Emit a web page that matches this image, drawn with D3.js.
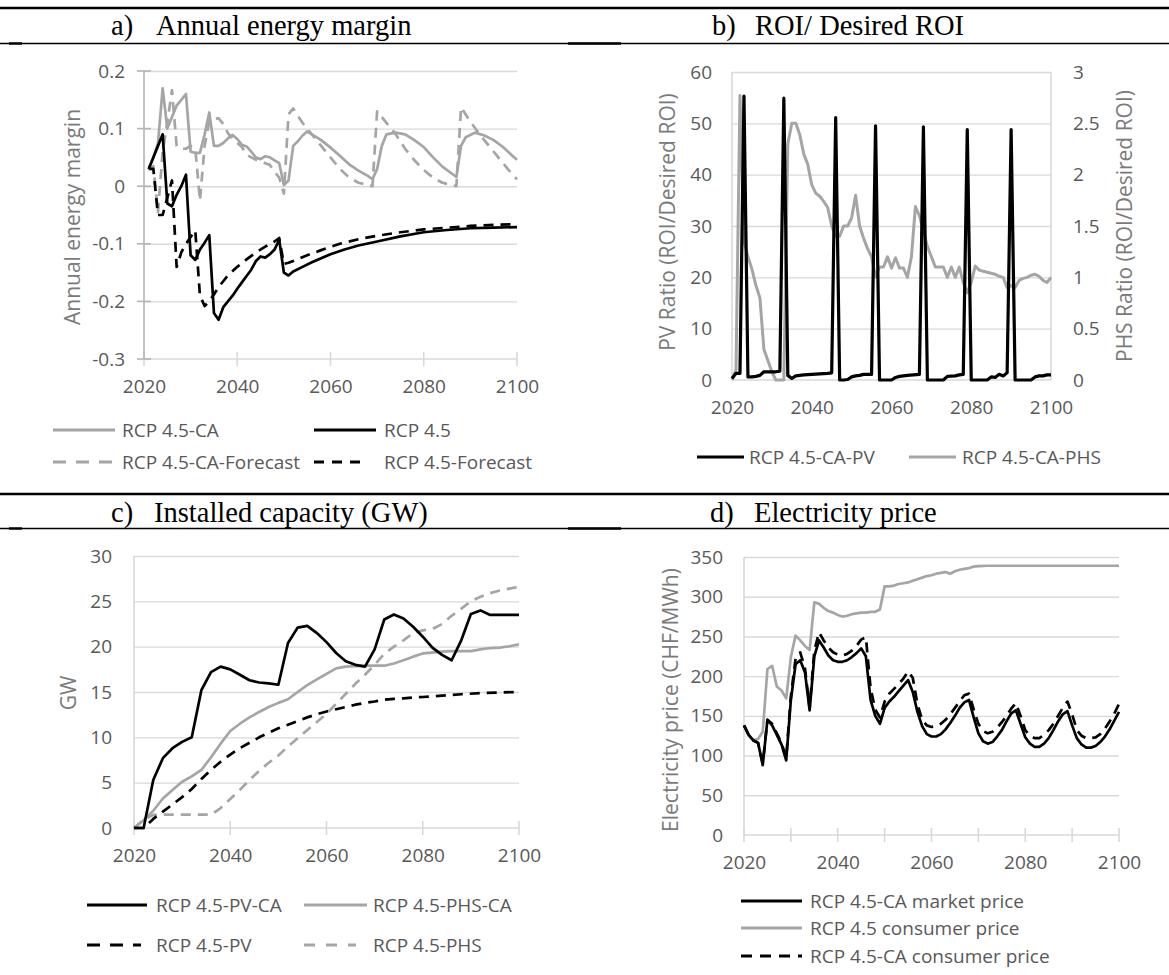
<!DOCTYPE html>
<html>
<head>
<meta charset="utf-8">
<script src="https://cdn.jsdelivr.net/npm/d3@7"></script>
<style>
  body { margin: 0; background: #fff; }
  svg { display: block; }
  .tick text { font-family: "Open Sans", sans-serif; font-size: 19px; fill: #595959; }
  .ttl { font-family: "Liberation Serif", "Times New Roman", serif; font-size: 28.5px; fill: #000; }
  .axt { font-family: "Open Sans", sans-serif; font-size: 21px; fill: #7a7a7a; }
  .leg { font-family: "Open Sans", sans-serif; font-size: 19px; fill: #595959; }
</style>
</head>
<body>
<svg id="chart" width="1169" height="975"></svg>
<script>
// ---- a) annual energy margin ----
const marginCA = [[2021,0.03],[2022,0.05],[2023,0.075],[2024,0.17],[2025,0.1],[2026,0.12],[2027,0.14],[2028,0.15],[2029,0.16],
  [2030,0.06],[2031,0.058],[2032,0.058],[2033,0.09],[2034,0.128],[2035,0.07],[2036,0.07],[2037,0.075],[2038,0.083],[2039,0.089],
  [2040,0.082],[2041,0.072],[2042,0.069],[2043,0.06],[2044,0.05],[2045,0.047],[2046,0.052],[2047,0.05],[2048,0.045],[2049,0.04],
  [2050,0.002],[2051,0.01],[2052,0.07],[2053,0.078],[2054,0.088],[2055,0.095],[2056,0.09],[2058,0.08],[2060,0.067],[2062,0.053],
  [2064,0.038],[2066,0.027],[2068,0.018],[2069,0.012],[2070,0.03],[2071,0.07],[2072,0.09],[2074,0.093],[2076,0.09],[2078,0.08],
  [2080,0.068],[2082,0.05],[2084,0.034],[2086,0.022],[2087,0.016],[2088,0.07],[2089,0.085],[2091,0.093],[2093,0.088],[2095,0.08],
  [2097,0.068],[2099,0.053],[2100,0.046]];
const marginRCP = [[2021,0.03],[2022,0.05],[2023,0.07],[2024,0.09],[2025,-0.03],[2026,-0.035],[2027,-0.015],[2028,0.0],[2029,0.02],
  [2030,-0.12],[2031,-0.128],[2032,-0.11],[2033,-0.098],[2034,-0.085],[2035,-0.22],[2036,-0.232],[2037,-0.21],[2038,-0.2],[2039,-0.19],
  [2040,-0.178],[2041,-0.167],[2042,-0.156],[2043,-0.145],[2044,-0.13],[2045,-0.122],[2046,-0.124],[2047,-0.118],[2048,-0.11],
  [2049,-0.093],[2050,-0.15],[2051,-0.155],[2052,-0.148],[2054,-0.14],[2056,-0.132],[2058,-0.125],[2060,-0.118],[2063,-0.11],
  [2066,-0.103],[2070,-0.096],[2075,-0.087],[2080,-0.08],[2085,-0.076],[2090,-0.073],[2095,-0.072],[2100,-0.071]];
const marginCAForecast = [[2021,0.03],[2022,0.035],[2023,-0.045],[2024,0.06],[2025,0.11],[2026,0.167],[2027,0.07],[2028,0.065],
  [2029,0.065],[2030,0.07],[2031,0.065],[2032,-0.025],[2033,0.07],[2034,0.112],[2035,0.117],[2036,0.118],[2037,0.108],[2038,0.092],
  [2039,0.082],[2040,0.075],[2041,0.068],[2042,0.055],[2043,0.05],[2044,0.046],[2045,0.043],[2046,0.04],[2047,0.037],[2048,0.025],
  [2049,0.015],[2050,-0.013],[2051,0.125],[2052,0.135],[2053,0.122],[2054,0.11],[2056,0.09],[2058,0.07],[2060,0.05],[2062,0.03],
  [2064,0.015],[2066,0.006],[2068,0.002],[2069,0.0],[2070,0.13],[2072,0.11],[2074,0.09],[2076,0.065],[2078,0.045],[2080,0.028],
  [2082,0.015],[2084,0.006],[2086,0.002],[2087,0.0],[2088,0.137],[2090,0.112],[2092,0.09],[2094,0.07],[2096,0.05],[2098,0.03],[2100,0.012]];
const marginForecast = [[2021,0.03],[2022,0.03],[2023,-0.05],[2024,-0.05],[2025,-0.02],[2026,0.01],[2027,-0.14],[2028,-0.115],
  [2029,-0.1],[2030,-0.088],[2031,-0.077],[2032,-0.19],[2033,-0.208],[2034,-0.2],[2035,-0.188],[2036,-0.175],[2037,-0.165],
  [2038,-0.155],[2040,-0.14],[2042,-0.127],[2044,-0.115],[2046,-0.105],[2048,-0.096],[2049,-0.09],[2050,-0.135],[2051,-0.133],
  [2052,-0.13],[2055,-0.12],[2058,-0.111],[2062,-0.1],[2066,-0.092],[2070,-0.086],[2075,-0.08],[2080,-0.075],[2085,-0.072],
  [2090,-0.069],[2095,-0.067],[2100,-0.066]];
const marginTicks = [-0.3, -0.2, -0.1, 0, 0.1, 0.2];

// ---- b) ROI / desired ROI ----
const roiPV = [[2020,0.3],[2021,1.3],[2022,1.3],[2023,55.3],[2024,0.6],[2025,0.6],[2026,0.7],[2027,0.9],[2028,1.6],[2029,1.6],
  [2030,1.6],[2031,1.6],[2032,1.7],[2033,54.9],[2034,0.9],[2035,0.3],[2036,0.8],[2037,0.9],[2038,1.0],[2040,1.1],[2042,1.2],
  [2044,1.3],[2045,1.4],[2046,51.1],[2047,0],[2048,0],[2049,0.1],[2050,0.6],[2051,0.8],[2052,0.9],[2053,1.1],[2055,1.1],
  [2056,49.5],[2057,0],[2060,0],[2061,0.5],[2062,0.7],[2064,0.9],[2067,1.1],[2068,49.3],[2069,0],[2073,0],[2074,0.7],[2076,0.8],
  [2077,1.0],[2078,1.1],[2079,48.8],[2080,0],[2084,0],[2085,0.6],[2086,0.5],[2087,1.1],[2088,0.8],[2089,1.4],[2090,48.8],
  [2091,0],[2095,0],[2096,0.6],[2097,0.8],[2098,0.8],[2099,1.0],[2100,1.0]];
const roiPHS = [[2020,0],[2021,0.1],[2022,2.77],[2023,1.35],[2024,1.2],[2025,1.08],[2026,0.92],[2027,0.8],[2028,0.3],[2029,0.19],
  [2030,0.08],[2031,0],[2033,0],[2034,2.3],[2035,2.5],[2036,2.5],[2037,2.39],[2038,2.2],[2039,2.1],[2040,1.9],[2041,1.82],
  [2042,1.79],[2043,1.74],[2044,1.68],[2045,1.5],[2046,1.4],[2047,1.4],[2048,1.5],[2049,1.5],[2050,1.58],[2051,1.8],[2052,1.5],
  [2053,1.38],[2054,1.28],[2055,1.2],[2056,1.0],[2057,1.1],[2058,1.1],[2059,1.2],[2060,1.09],[2061,1.19],[2062,1.09],[2063,1.09],
  [2064,1.0],[2065,1.2],[2066,1.69],[2067,1.6],[2068,1.45],[2069,1.3],[2070,1.2],[2071,1.1],[2073,1.1],[2074,1.0],[2075,1.1],
  [2076,1.0],[2077,1.1],[2078,0.95],[2079,0.85],[2080,0.95],[2081,1.11],[2082,1.07],[2083,1.06],[2084,1.05],[2085,1.04],
  [2086,1.03],[2087,1.01],[2088,1.0],[2089,0.9],[2090,0.92],[2091,0.9],[2092,0.97],[2093,0.99],[2094,1.0],[2095,1.02],
  [2096,1.03],[2097,1.01],[2098,0.97],[2099,0.95],[2100,1.0]];
const pvTicks = [0, 10, 20, 30, 40, 50, 60];
const phsTicks = [0, 0.5, 1, 1.5, 2, 2.5, 3];

// ---- c) installed capacity (GW) ----
const capPVCA = [[2020,0],[2022,0],[2024,5.3],[2026,7.7],[2028,8.8],[2030,9.5],[2032,10],[2034,15.2],[2036,17.2],[2038,17.8],
  [2040,17.5],[2042,16.9],[2044,16.3],[2046,16.05],[2048,15.95],[2050,15.8],[2052,20.4],[2054,22.1],[2056,22.3],[2058,21.5],
  [2060,20.5],[2062,19.3],[2064,18.4],[2066,18.0],[2068,17.8],[2070,19.7],[2072,23.0],[2074,23.55],[2076,23.1],[2078,22.2],
  [2080,21.1],[2082,19.9],[2084,19.1],[2086,18.5],[2088,20.7],[2090,23.6],[2092,24.0],[2094,23.5],[2096,23.5],[2098,23.5],[2100,23.5]];
const capPHSCA = [[2020,0],[2022,0.85],[2024,1.9],[2026,3.25],[2028,4.2],[2030,5.1],[2032,5.7],[2034,6.4],[2036,7.8],[2038,9.3],
  [2040,10.7],[2042,11.5],[2044,12.2],[2046,12.8],[2048,13.35],[2050,13.8],[2052,14.2],[2054,15.0],[2056,15.75],[2058,16.4],
  [2060,17.0],[2062,17.6],[2064,17.8],[2066,17.85],[2068,17.9],[2070,17.9],[2072,17.9],[2074,18.15],[2076,18.5],[2078,18.9],
  [2080,19.25],[2082,19.35],[2084,19.45],[2086,19.5],[2088,19.5],[2090,19.5],[2092,19.7],[2094,19.85],[2096,19.9],[2098,20.05],[2100,20.25]];
const capPV = [[2020,0],[2022,0],[2024,1.0],[2026,1.8],[2028,2.6],[2030,3.4],[2032,4.3],[2034,5.4],[2036,6.4],[2038,7.3],
  [2040,8.1],[2042,8.8],[2044,9.4],[2046,10.0],[2048,10.5],[2050,11.0],[2052,11.4],[2054,11.8],[2056,12.2],[2058,12.55],
  [2060,12.85],[2062,13.1],[2064,13.35],[2066,13.6],[2068,13.8],[2070,13.95],[2072,14.15],[2074,14.25],[2076,14.3],[2078,14.4],
  [2080,14.45],[2084,14.6],[2088,14.75],[2092,14.88],[2096,14.95],[2100,15.0]];
const capPHS = [[2020,0],[2022,0.9],[2024,1.45],[2026,1.47],[2030,1.47],[2034,1.47],[2036,1.47],[2038,2.2],[2040,3.2],[2042,4.2],
  [2044,5.3],[2046,6.3],[2048,7.2],[2050,8.0],[2052,9.0],[2054,9.9],[2056,10.8],[2058,11.7],[2060,12.6],[2062,13.7],[2064,14.8],
  [2066,15.9],[2068,16.9],[2070,18.0],[2072,19.2],[2074,20.0],[2076,20.7],[2078,21.5],[2080,21.8],[2082,21.95],[2084,22.5],
  [2086,23.4],[2088,24.2],[2090,25.0],[2092,25.5],[2094,25.9],[2096,26.2],[2098,26.4],[2100,26.6]];
const capTicks = [0, 5, 10, 15, 20, 25, 30];

// ---- d) electricity price ----
const priceConsumer = [[2020,138],[2021,125],[2022,119],[2023,121],[2024,130],[2025,209],[2026,213],[2027,187],[2028,182],[2029,172],
  [2030,224],[2031,251],[2032,245],[2033,238],[2034,233],[2035,293],[2036,291],[2037,286],[2038,282],[2039,280],[2040,277],
  [2041,275],[2042,276],[2043,278],[2044,279],[2045,280],[2046,280],[2047,281],[2048,281],[2049,284],[2050,313],[2051,313],
  [2052,314],[2053,316],[2054,317],[2055,318],[2056,320],[2057,322],[2058,324],[2059,326],[2060,327],[2061,329],[2062,330],
  [2063,331],[2064,329],[2065,332],[2066,334],[2067,335],[2068,336],[2069,338],[2070,338.5],[2072,339],[2080,339],[2090,339],[2100,339]];
const priceMarketCA = [[2020,138],[2021,126],[2022,119],[2023,116],[2024,88],[2025,145],[2026,138],[2027,126],[2028,114],[2029,94],
  [2030,170],[2031,215],[2032,220],[2033,205],[2034,157],[2035,225],[2036,245],[2037,236],[2038,226],[2039,220],[2040,218],
  [2041,218],[2042,220],[2043,224],[2044,229],[2045,235],[2046,225],[2047,170],[2048,150],[2049,140],[2050,160],[2051,168],
  [2052,174],[2053,181],[2054,188],[2055,195],[2056,180],[2057,155],[2058,137],[2059,127],[2060,124],[2061,124],[2062,127],
  [2063,133],[2064,141],[2065,150],[2066,160],[2067,167],[2068,170],[2069,148],[2070,128],[2071,118],[2072,115],[2073,117],
  [2074,124],[2075,132],[2076,143],[2077,153],[2078,157],[2079,140],[2080,123],[2081,115],[2082,111],[2083,111],[2084,115],
  [2085,122],[2086,132],[2087,143],[2088,152],[2089,156],[2090,138],[2091,122],[2092,114],[2093,110],[2094,110],[2095,112],
  [2096,117],[2097,124],[2098,133],[2099,144],[2100,155]];
const priceConsumerCA = [[2020,138],[2021,126],[2022,119],[2023,116],[2024,90],[2025,145],[2026,140],[2027,128],[2028,116],[2029,97],
  [2030,175],[2031,222],[2032,230],[2033,210],[2034,160],[2035,232],[2036,255],[2037,245],[2038,236],[2039,230],[2040,227],
  [2041,226],[2042,228],[2043,232],[2044,238],[2045,246],[2046,249],[2047,185],[2048,158],[2049,148],[2050,168],[2051,178],
  [2052,184],[2053,190],[2054,197],[2055,206],[2056,198],[2057,165],[2058,145],[2059,138],[2060,136],[2061,137],[2062,140],
  [2063,145],[2064,152],[2065,160],[2066,168],[2067,176],[2068,178],[2069,158],[2070,140],[2071,131],[2072,128],[2073,130],
  [2074,135],[2075,142],[2076,150],[2077,159],[2078,166],[2079,150],[2080,132],[2081,125],[2082,122],[2083,122],[2084,126],
  [2085,132],[2086,140],[2087,150],[2088,160],[2089,168],[2090,152],[2091,132],[2092,125],[2093,122],[2094,122],[2095,123],
  [2096,127],[2097,134],[2098,143],[2099,153],[2100,165]];
const priceTicks = [0, 50, 100, 150, 200, 250, 300, 350];

const yearLabels = [2020, 2040, 2060, 2080, 2100];
const yearTicks20 = [2020, 2040, 2060, 2080, 2100];
const yearTicks10 = [2020, 2030, 2040, 2050, 2060, 2070, 2080, 2090, 2100];

const BLACK = '#000000', GRAY = '#a5a5a5', GRID = '#d9d9d9';
const svg = d3.select('#chart');

// section rules (table borders in the source document)
function rule(y, x1, x2, w) {
  svg.append('line').attr('x1', x1).attr('x2', x2).attr('y1', y).attr('y2', y)
    .attr('stroke', '#000').attr('stroke-width', w);
}
rule(8, 0, 1169, 2.6); rule(43.5, 0, 1169, 1.6);
rule(43.5, 9, 22, 2.4); rule(43.5, 568, 621, 2.4);
rule(494, 0, 1169, 2.6); rule(528.5, 0, 1169, 1.6);
rule(528.5, 9, 22, 2.4); rule(528.5, 568, 621, 2.4);

function title(x1, x2, y, tag, text) {
  svg.append('text').attr('class', 'ttl').attr('x', x1).attr('y', y).text(tag);
  svg.append('text').attr('class', 'ttl').attr('x', x2).attr('y', y).text(text);
}
title(111, 156, 35, 'a)', 'Annual energy margin');
title(712, 755, 35, 'b)', 'ROI/ Desired ROI');
title(111, 154, 522, 'c)', 'Installed capacity (GW)');
title(710, 754, 522, 'd)', 'Electricity price');

const fmtMargin = v => (v === 0 ? '0' : v.toFixed(1));

function panel(p) {
  const g = svg.append('g');
  const x = d3.scaleLinear().domain([2020, 2100]).range([p.left, p.right]);
  const y = d3.scaleLinear().domain([p.yTicks[0], p.yTicks[p.yTicks.length - 1]]).range([p.bottom, p.top]);

  // horizontal gridlines
  g.append('g').attr('transform', `translate(${p.left},0)`)
    .call(d3.axisLeft(y).tickValues(p.yTicks.slice(1)).tickSize(-(p.right - p.left)).tickFormat(''))
    .call(s => s.select('.domain').remove())
    .call(s => s.selectAll('line').attr('stroke', GRID).attr('stroke-width', 1.4));

  // x axis line + ticks
  g.append('line').attr('x1', p.left).attr('x2', p.right).attr('y1', p.bottom).attr('y2', p.bottom)
    .attr('stroke', GRID).attr('stroke-width', 1.6);
  if (p.xTickMarks) {
    g.selectAll(null).data(p.xTickMarks).join('line')
      .attr('x1', d => x(d)).attr('x2', d => x(d)).attr('y1', p.bottom - 7).attr('y2', p.bottom + 7)
      .attr('stroke', GRID).attr('stroke-width', 1.6);
  }
  // y axis line
  g.append('line').attr('x1', p.left).attr('x2', p.left).attr('y1', p.top).attr('y2', p.bottom)
    .attr('stroke', p.yAxisColor || GRID).attr('stroke-width', 1.6);
  if (p.yTickMarks) {
    g.selectAll(null).data(p.yTicks).join('line')
      .attr('x1', p.left - 7).attr('x2', p.left + 7).attr('y1', d => y(d)).attr('y2', d => y(d))
      .attr('stroke', p.yAxisColor || GRID).attr('stroke-width', 1.6);
  }

  // tick labels
  g.append('g').attr('transform', `translate(${p.left},0)`)
    .call(d3.axisLeft(y).tickValues(p.yTicks).tickSize(0).tickPadding(p.yPad).tickFormat(p.yFmt || (d => d)))
    .call(s => s.select('.domain').remove());
  g.append('g').attr('transform', `translate(0,${p.bottom})`)
    .call(d3.axisBottom(x).tickValues(yearLabels).tickSize(0).tickPadding(21).tickFormat(d => d))
    .call(s => s.select('.domain').remove());

  // axis title
  g.append('text').attr('class', 'axt')
    .attr('transform', `translate(${p.titleX},${p.titleY}) rotate(-90)`)
    .attr('text-anchor', 'middle').attr('dominant-baseline', 'central').text(p.yTitle);

  return { g, x, y };
}

function drawSeries(g, x, y, data, color, dash, width) {
  g.append('path').datum(data)
    .attr('fill', 'none').attr('stroke', color).attr('stroke-width', width || 2.7)
    .attr('stroke-linejoin', 'round').attr('stroke-dasharray', dash || null)
    .attr('d', d3.line().x(d => x(d[0])).y(d => y(d[1])));
}

function legend(items) {
  items.forEach(it => {
    svg.append('line').attr('x1', it.x1).attr('x2', it.x2).attr('y1', it.y).attr('y2', it.y)
      .attr('stroke', it.color).attr('stroke-width', 3).attr('stroke-dasharray', it.dash || null);
    svg.append('text').attr('class', 'leg').attr('x', it.tx).attr('y', it.y)
      .attr('dominant-baseline', 'central').text(it.label);
  });
}

// ---- panel a ----
const A = panel({ left: 144, right: 517, top: 71, bottom: 359, yTicks: marginTicks, yFmt: fmtMargin, yPad: 19,
  yAxisColor: '#b5b5b5', yTickMarks: true, xTickMarks: yearTicks20,
  yTitle: 'Annual energy margin', titleX: 71.5, titleY: 217 });
drawSeries(A.g, A.x, A.y, marginCA, GRAY);
drawSeries(A.g, A.x, A.y, marginCAForecast, GRAY, '10,7');
drawSeries(A.g, A.x, A.y, marginRCP, BLACK);
drawSeries(A.g, A.x, A.y, marginForecast, BLACK, '10,7');
legend([
  { x1: 53, x2: 115, y: 430, tx: 122, color: GRAY, label: 'RCP 4.5-CA' },
  { x1: 314, x2: 376, y: 430, tx: 384, color: BLACK, label: 'RCP 4.5' },
  { x1: 53, x2: 115, y: 462, tx: 122, color: GRAY, dash: '13,10', label: 'RCP 4.5-CA-Forecast' },
  { x1: 314, x2: 367, y: 462, tx: 384, color: BLACK, dash: '10,8', label: 'RCP 4.5-Forecast' }
]);

// ---- panel b ----
const B = panel({ left: 732, right: 1051, top: 72, bottom: 380, yTicks: pvTicks, yPad: 20,
  yTitle: 'PV Ratio (ROI/Desired ROI)', titleX: 667, titleY: 222 });
const yPHS = d3.scaleLinear().domain([0, 3]).range([380, 72]);
B.g.append('line').attr('x1', 1051).attr('x2', 1051).attr('y1', 72).attr('y2', 380)
  .attr('stroke', GRID).attr('stroke-width', 1.6);
B.g.append('g').attr('transform', 'translate(1051,0)')
  .call(d3.axisRight(yPHS).tickValues(phsTicks).tickSize(0).tickPadding(22).tickFormat(d => d))
  .call(s => s.select('.domain').remove());
B.g.append('text').attr('class', 'axt')
  .attr('transform', 'translate(1124,226) rotate(-90)')
  .attr('text-anchor', 'middle').attr('dominant-baseline', 'central').text('PHS Ratio (ROI/Desired ROI)');
drawSeries(B.g, B.x, yPHS, roiPHS, GRAY, null, 3);
drawSeries(B.g, B.x, B.y, roiPV, BLACK, null, 3.2);
legend([
  { x1: 697, x2: 744, y: 457, tx: 749, color: BLACK, label: 'RCP 4.5-CA-PV' },
  { x1: 909, x2: 956, y: 457, tx: 962, color: GRAY, label: 'RCP 4.5-CA-PHS' }
]);

// ---- panel c ----
const C = panel({ left: 134, right: 519, top: 556, bottom: 828, yTicks: capTicks, yPad: 22,
  xTickMarks: yearTicks20, yTitle: 'GW', titleX: 68, titleY: 693 });
drawSeries(C.g, C.x, C.y, capPHS, GRAY, '10,7');
drawSeries(C.g, C.x, C.y, capPHSCA, GRAY);
drawSeries(C.g, C.x, C.y, capPV, BLACK, '10,7');
drawSeries(C.g, C.x, C.y, capPVCA, BLACK);
legend([
  { x1: 87, x2: 147, y: 905, tx: 156, color: BLACK, label: 'RCP 4.5-PV-CA' },
  { x1: 304, x2: 367, y: 905, tx: 373, color: GRAY, label: 'RCP 4.5-PHS-CA' },
  { x1: 87, x2: 141, y: 945, tx: 156, color: BLACK, dash: '13,10', label: 'RCP 4.5-PV' },
  { x1: 304, x2: 356, y: 945, tx: 373, color: GRAY, dash: '11,11', label: 'RCP 4.5-PHS' }
]);

// ---- panel d ----
const D = panel({ left: 744, right: 1119, top: 557, bottom: 835, yTicks: priceTicks, yPad: 21,
  xTickMarks: yearTicks10, yTitle: 'Electricity price (CHF/MWh)', titleX: 670, titleY: 700 });
drawSeries(D.g, D.x, D.y, priceConsumer, GRAY);
drawSeries(D.g, D.x, D.y, priceMarketCA, BLACK);
drawSeries(D.g, D.x, D.y, priceConsumerCA, BLACK, '10,7');
legend([
  { x1: 741, x2: 802, y: 901, tx: 810, color: BLACK, label: 'RCP 4.5-CA market price' },
  { x1: 741, x2: 802, y: 928, tx: 810, color: GRAY, label: 'RCP 4.5 consumer price' },
  { x1: 741, x2: 802, y: 956, tx: 810, color: BLACK, dash: '11,8', label: 'RCP 4.5-CA consumer price' }
]);
</script>
</body>
</html>
